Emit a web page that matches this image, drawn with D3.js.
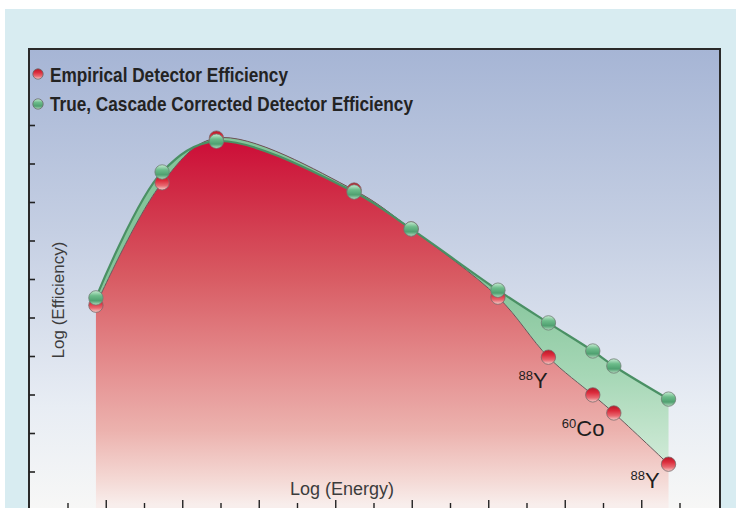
<!DOCTYPE html>
<html>
<head>
<meta charset="utf-8">
<script src="https://cdn.jsdelivr.net/npm/d3@7"></script>
<style>
  html, body { margin: 0; padding: 0; background: #fff; }
  svg { display: block; font-family: "Liberation Sans", Arial, sans-serif; }
</style>
</head>
<body>
<svg id="chart" width="736" height="508"></svg>
<script>
// data: positions on the log(energy) axis (tick units) and log efficiency (tick units)
const logEnergy = [1.73, 3.46, 4.88, 8.48, 9.97, 12.24, 13.56, 14.72, 15.27, 16.70];
const empirical = [6.32, 9.50, 10.66, 9.31, 8.30, 6.53, 4.97, 3.99, 3.52, 2.19];
const corrected = [6.51, 9.78, 10.58, 9.26, 8.30, 6.71, 5.86, 5.13, 4.74, 3.88];
const seriesNames = ["Empirical Detector Efficiency", "True, Cascade Corrected Detector Efficiency"];
const isotopeLabels = [
  { point: 6, mass: "88", sym: "Y" },
  { point: 8, mass: "60", sym: "Co" },
  { point: 9, mass: "88", sym: "Y" }
];
const xTicks = d3.range(1, 18);
const yTicks = d3.range(1, 12);

const svg = d3.select("#chart");
const W = 736, H = 508;
const frame = { left: 29, top: 49, right: 720 };

const x = d3.scaleLinear().domain([0, 18]).range([29.75, 29.75 + 18 * 38.25]);
const y = d3.scaleLinear().domain([0, 11]).range([548.5, 125]);

const pts = logEnergy.map((e, i) => ({ e, emp: empirical[i], cor: corrected[i] }));

// gradients
const defs = svg.append("defs");
function linGrad(id, y1, y2, stops) {
  const g = defs.append("linearGradient").attr("id", id)
    .attr("gradientUnits", "userSpaceOnUse")
    .attr("x1", 0).attr("x2", 0).attr("y1", y1).attr("y2", y2);
  stops.forEach(s => g.append("stop").attr("offset", s[0]).attr("stop-color", s[1]));
}
linGrad("bgGrad", frame.top, H, [[0, "#a6b5d5"], [0.4, "#c5cfe3"], [0.78, "#e8edf4"], [1, "#f7f7f6"]]);
linGrad("redGrad", 135, 505, [[0, "#cc0a36"], [0.16, "#d02c46"], [0.38, "#d85a62"], [0.6, "#e3888a"], [0.8, "#ecb2ae"], [0.93, "#f4d8d4"], [1, "#f8eeec"]]);
linGrad("greenGrad", 280, 470, [[0, "#84c49a"], [0.5, "#a6d7b6"], [1, "#d4ecda"]]);

function ballGrad(id, c0, c1, c2, c3) {
  const g = defs.append("linearGradient").attr("id", id)
    .attr("x1", 0).attr("x2", 0).attr("y1", 0).attr("y2", 1);
  [[0, c0], [0.35, c1], [0.7, c2], [1, c3]].forEach(s =>
    g.append("stop").attr("offset", s[0]).attr("stop-color", s[1]));
}
ballGrad("redBall", "#b81828", "#dc2c3c", "#e86870", "#f6d0cc");
ballGrad("greenBall", "#c8ecd4", "#6cbc8a", "#4fa070", "#b4dcc0");

// page background
svg.append("rect").attr("width", W).attr("height", H).attr("fill", "#ffffff");
svg.append("rect").attr("x", 5).attr("y", 9).attr("width", W - 5).attr("height", H - 9).attr("fill", "#d8ecf1");

// plot panel
svg.append("rect")
  .attr("x", frame.left).attr("y", frame.top)
  .attr("width", frame.right - frame.left).attr("height", H - frame.top + 10)
  .attr("fill", "url(#bgGrad)")
  .attr("stroke", "#2a2a2a").attr("stroke-width", 2);

const curve = d3.curveCatmullRom.alpha(0.5);

// red area under empirical curve
svg.append("path")
  .datum(pts)
  .attr("fill", "url(#redGrad)")
  .attr("d", d3.area().curve(curve).x(d => x(d.e)).y0(y(0)).y1(d => y(d.emp)));

// green band between curves
svg.append("path")
  .datum(pts)
  .attr("fill", "url(#greenGrad)")
  .attr("d", d3.area().curve(curve).x(d => x(d.e)).y0(d => y(d.emp)).y1(d => y(d.cor)));

svg.append("path")
  .datum(pts)
  .attr("fill", "none").attr("stroke", "#6b5558").attr("stroke-width", 1)
  .attr("d", d3.line().curve(curve).x(d => x(d.e)).y(d => y(d.emp)));

svg.append("path")
  .datum(pts)
  .attr("fill", "none").attr("stroke", "#4a9064").attr("stroke-width", 2.2)
  .attr("d", d3.line().curve(curve).x(d => x(d.e)).y(d => y(d.cor)));

// markers
const r = 7.2;
svg.append("g").selectAll("circle").data(pts).join("circle")
  .attr("cx", d => x(d.e)).attr("cy", d => y(d.emp)).attr("r", r)
  .attr("fill", "url(#redBall)").attr("stroke", "#7a6a6a").attr("stroke-width", 0.8);
svg.append("g").selectAll("circle").data(pts).join("circle")
  .attr("cx", d => x(d.e)).attr("cy", d => y(d.cor)).attr("r", r)
  .attr("fill", "url(#greenBall)").attr("stroke", "#6e7e74").attr("stroke-width", 0.8);

// axes (ticks only)
const yAxis = d3.axisRight(y).tickValues(yTicks).tickSize(6).tickFormat("");
svg.append("g").attr("transform", `translate(${frame.left},0)`).call(yAxis)
  .call(g => g.select(".domain").remove())
  .call(g => g.selectAll("line").attr("stroke", "#222").attr("stroke-width", 1.6));

const xg = svg.append("g").attr("transform", `translate(0,${y(1)})`);
xg.selectAll("line").data(xTicks).join("line")
  .attr("x1", d => x(d)).attr("x2", d => x(d))
  .attr("y1", 0).attr("y2", d => (d % 2 ? -7 : -10))
  .attr("stroke", "#222").attr("stroke-width", 1.4);

// isotope labels
const labelOffset = [[-30, 31], [-52, 23], [-38, 24]];
isotopeLabels.forEach((l, i) => {
  const p = pts[l.point];
  const t = svg.append("text")
    .attr("x", x(p.e) + labelOffset[i][0]).attr("y", y(p.emp) + labelOffset[i][1])
    .attr("fill", "#1e1e1e").attr("font-size", 22);
  t.append("tspan").attr("font-size", 13).attr("dy", -8).text(l.mass);
  t.append("tspan").attr("dy", 8).text(l.sym);
});

// axis titles
svg.append("text")
  .attr("transform", "translate(64,300) rotate(-90)")
  .attr("text-anchor", "middle").attr("font-size", 17).attr("fill", "#3c3c3c")
  .text("Log (Efficiency)");
svg.append("text")
  .attr("x", 342).attr("y", 495)
  .attr("text-anchor", "middle").attr("font-size", 18).attr("fill", "#3c3c3c")
  .text("Log (Energy)");

// legend
const legend = [
  { name: seriesNames[0], fill: "url(#redBall)", cy: 74, baseline: 82, len: 238 },
  { name: seriesNames[1], fill: "url(#greenBall)", cy: 104, baseline: 111, len: 363 }
];
const lg = svg.append("g");
legend.forEach(d => {
  lg.append("circle").attr("cx", 38).attr("cy", d.cy).attr("r", 5.2)
    .attr("fill", d.fill).attr("stroke", "#6a6a6a").attr("stroke-width", 0.8);
  lg.append("text").attr("x", 50).attr("y", d.baseline)
    .attr("font-size", 21).attr("font-weight", "bold").attr("fill", "#232323")
    .attr("textLength", d.len).attr("lengthAdjust", "spacingAndGlyphs")
    .text(d.name);
});
</script>
</body>
</html>
